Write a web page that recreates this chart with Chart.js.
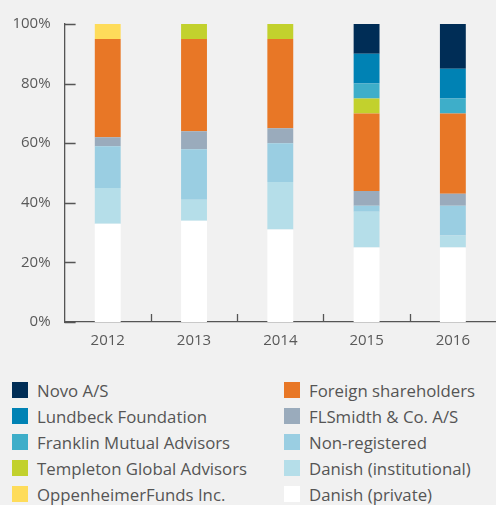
<!DOCTYPE html>
<html>
<head>
<meta charset="utf-8">
<script src="https://cdn.jsdelivr.net/npm/chart.js@4"></script>
<style>
    html, body { margin: 0; padding: 0; background: #f1f1f1; }
    body { width: 496px; height: 505px; overflow: hidden; font-family: 'Open Sans', sans-serif; }
    .chart-container { position: relative; width: 496px; height: 355px; }
    .legend { display: grid; grid-template-columns: 272px 224px; margin-top: 22px; }
    .legend-item { display: flex; align-items: center; height: 26px; padding-left: 12px; font-size: 16.8px; color: #555; white-space: nowrap; }
    .legend-box { width: 16px; height: 16px; margin-right: 9px; flex: none; }
</style>
</head>
<body>
<div class="chart-container"><canvas id="owner-chart"></canvas></div>
<div class="legend" id="legend"></div>
<script>
'use strict';

const years = ['2012', '2013', '2014', '2015', '2016'];
const yTicks = [0, 20, 40, 60, 80, 100];

// shares per year, % of capital
const danishPrivate       = [33, 34, 31, 25, 25];
const danishInstitutional = [12, 7, 16, 12, 4];
const nonRegistered       = [14, 17, 13, 2, 10];
const flsmidth            = [3, 6, 5, 5, 4];
const foreignHolders      = [33, 31, 30, 26, 27];
const oppenheimer         = [5, 0, 0, 0, 0];
const templeton           = [0, 5, 5, 5, 0];
const franklin            = [0, 0, 0, 5, 5];
const lundbeck            = [0, 0, 0, 10, 10];
const novo                = [0, 0, 0, 10, 15];

// stacked bottom -> top
const series = [
    { label: 'Danish (private)', data: danishPrivate, color: '#ffffff' },
    { label: 'Danish (institutional)', data: danishInstitutional, color: '#b5dee9' },
    { label: 'Non-registered', data: nonRegistered, color: '#9acee2' },
    { label: 'FLSmidth & Co. A/S', data: flsmidth, color: '#9aabbc' },
    { label: 'Foreign shareholders', data: foreignHolders, color: '#e87726' },
    { label: 'OppenheimerFunds Inc.', data: oppenheimer, color: '#fedc5a' },
    { label: 'Templeton Global Advisors', data: templeton, color: '#c2d12d' },
    { label: 'Franklin Mutual Advisors', data: franklin, color: '#3eaec9' },
    { label: 'Lundbeck Foundation', data: lundbeck, color: '#0082b4' },
    { label: 'Novo A/S', data: novo, color: '#002d56' }
];

// legend order: left column then right column
const legendOrder = [
    'Novo A/S', 'Foreign shareholders',
    'Lundbeck Foundation', 'FLSmidth & Co. A/S',
    'Franklin Mutual Advisors', 'Non-registered',
    'Templeton Global Advisors', 'Danish (institutional)',
    'OppenheimerFunds Inc.', 'Danish (private)'
];

const axisColor = '#555555';
const textColor = '#595959';

// ticks pointing into the plot area
const innerTicks = {
    id: 'innerTicks',
    afterDraw(chart) {
        const { ctx, chartArea, scales } = chart;
        ctx.save();
        ctx.strokeStyle = axisColor;
        ctx.lineWidth = 1.3;
        ctx.beginPath();
        yTicks.forEach(v => {
            const y = Math.round(scales.y.getPixelForValue(v)) + 0.5;
            ctx.moveTo(chartArea.left, y);
            ctx.lineTo(chartArea.left + 11, y);
        });
        for (let i = 1; i < years.length; i++) {
            const x = Math.round((scales.x.getPixelForValue(i - 1) + scales.x.getPixelForValue(i)) / 2) + 0.5;
            ctx.moveTo(x, chartArea.bottom);
            ctx.lineTo(x, chartArea.bottom - 8);
        }
        ctx.stroke();
        ctx.restore();
    }
};

new Chart(document.getElementById('owner-chart'), {
    type: 'bar',
    data: {
        labels: years,
        datasets: series.map(s => ({
            label: s.label,
            data: s.data,
            backgroundColor: s.color,
            borderWidth: 0,
            barPercentage: 0.3,
            categoryPercentage: 1
        }))
    },
    options: {
        responsive: true,
        maintainAspectRatio: false,
        animation: false,
        layout: { padding: { top: 24, left: 0, right: 0, bottom: 0 } },
        plugins: { legend: { display: false }, tooltip: { enabled: false } },
        scales: {
            x: {
                stacked: true,
                grid: { display: false, drawTicks: false },
                border: { color: axisColor, width: 1.3 },
                ticks: { color: textColor, padding: 10, font: { family: 'Open Sans', size: 15 } },
                afterFit: s => { s.height = 33; }
            },
            y: {
                stacked: true,
                min: 0,
                max: 100,
                afterBuildTicks: s => { s.ticks = yTicks.map(v => ({ value: v })); },
                grid: { display: false, drawTicks: false },
                border: { color: axisColor, width: 1.3 },
                ticks: { color: textColor, padding: 14, font: { family: 'Open Sans', size: 15 }, callback: v => v + '%' },
                afterFit: s => { s.width = 64.6; }
            }
        }
    },
    plugins: [innerTicks]
});

const legendNode = document.getElementById('legend');
legendNode.innerHTML = legendOrder.map(name => {
    const s = series.find(x => x.label === name);
    return `<div class="legend-item"><span class="legend-box" style="background:${s.color}"></span>${s.label}</div>`;
}).join('');
</script>
</body>
</html>
